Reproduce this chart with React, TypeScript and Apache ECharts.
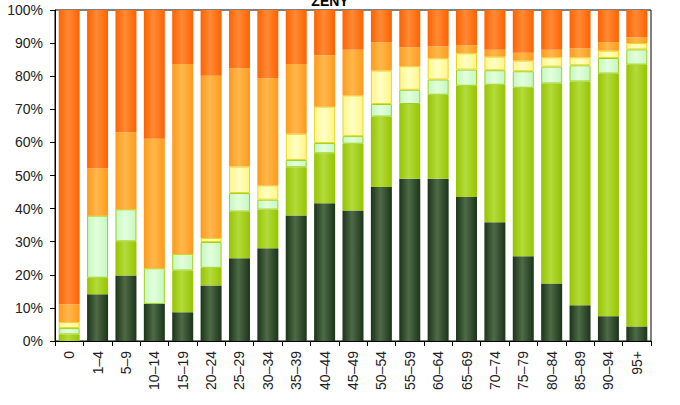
import React, { useEffect, useRef } from "react";
import * as echarts from "echarts";

const categories = ["0", "1–4", "5–9", "10–14", "15–19", "20–24", "25–29", "30–34", "35–39", "40–44", "45–49", "50–54", "55–59", "60–64", "65–69", "70–74", "75–79", "80–84", "85–89", "90–94", "95+"];

const darkGreen = [0, 14.1, 19.8, 11.2, 8.7, 16.8, 25.0, 28.0, 37.9, 41.6, 39.4, 46.5, 49.0, 49.0, 43.5, 35.9, 25.6, 17.4, 10.8, 7.5, 4.4];
const lightGreen = [2.0, 5.0, 10.3, 0, 12.6, 5.3, 14.1, 11.7, 14.6, 15.1, 20.2, 21.3, 22.6, 25.4, 33.6, 41.5, 50.9, 60.4, 67.6, 73.3, 79.1];
const mint = [1.9, 18.8, 9.7, 10.8, 5.0, 7.8, 5.6, 3.0, 2.2, 3.1, 2.3, 3.8, 4.3, 4.6, 4.9, 4.4, 5.0, 5.1, 4.9, 4.7, 4.6];
const paleYellow = [1.8, 0, 0, 0, 0, 1.2, 8.0, 4.3, 7.9, 11.0, 12.3, 10.1, 7.1, 6.4, 4.9, 4.1, 3.2, 2.8, 2.4, 2.2, 1.9];
const lightOrange = [5.4, 14.3, 23.3, 39.1, 57.4, 49.0, 29.7, 32.4, 21.1, 15.5, 13.8, 8.6, 5.7, 3.6, 2.4, 2.1, 2.4, 2.3, 2.7, 2.6, 1.8];
const orange = [88.9, 47.8, 36.9, 38.9, 16.3, 19.9, 17.6, 20.6, 16.3, 13.7, 12.0, 9.7, 11.3, 11.0, 10.7, 12.0, 12.9, 12.0, 11.6, 9.7, 8.2];

const yTicks = [0, 10, 20, 30, 40, 50, 60, 70, 80, 90, 100];

function grad(edge: string, center: string) {
  return new echarts.graphic.LinearGradient(0, 0, 1, 0, [
    { offset: 0, color: edge },
    { offset: 0.45, color: center },
    { offset: 1, color: edge },
  ]);
}

export default function App() {
  const ref = useRef<HTMLDivElement>(null);
  useEffect(() => {
    if (!ref.current) return;
    const chart = echarts.init(ref.current, null, { renderer: "svg" });
    const mk = (name: string, data: number[], edge: string, center: string, border: string, bw: number) => ({
      name,
      type: "bar",
      stack: "all",
      data,
      barCategoryGap: "26%",
      itemStyle: { color: grad(edge, center), borderColor: border, borderWidth: bw },
    });
    chart.setOption({
      animation: false,
      title: {
        text: "ŽENY",
        left: 325,
        textAlign: "center",
        top: -11,
        textStyle: { fontFamily: "Liberation Sans, Arial, sans-serif", fontSize: 14, fontWeight: "bold", color: "#000" },
      },
      grid: { left: 55, right: 29, top: 10, bottom: 64, show: true, borderColor: "#000", borderWidth: 1 },
      xAxis: {
        type: "category",
        data: categories,
        axisLine: { lineStyle: { color: "#000", width: 1 } },
        axisTick: { show: true, length: 5, lineStyle: { color: "#000" }, alignWithLabel: false },
        axisLabel: { rotate: 90, margin: 10, color: "#222", fontSize: 14, fontFamily: "Liberation Sans, Arial, sans-serif", interval: 0 },
      },
      yAxis: {
        type: "value",
        min: 0,
        max: 100,
        interval: 10,
        splitLine: { show: false },
        axisLine: { show: true, lineStyle: { color: "#000", width: 1 } },
        axisTick: { show: true, length: 5, lineStyle: { color: "#000" } },
        axisLabel: {
          margin: 12,
          color: "#222",
          fontSize: 14,
          fontFamily: "Liberation Sans, Arial, sans-serif",
          formatter: (v: number) => (yTicks.includes(v) ? v + "%" : ""),
        },
      },
      series: [
        mk("s1", darkGreen, "#1c3419", "#4d6b47", "#1c3419", 0),
        mk("s2", lightGreen, "#96c400", "#b4db3c", "#99c400", 0),
        mk("s3", mint, "#c6f7c0", "#e2ffdc", "#9fd21a", 1),
        mk("s4", paleYellow, "#fff58a", "#ffffc4", "#e8d820", 1),
        mk("s5", lightOrange, "#ff9a1a", "#ffb84d", "#ff9a1a", 0),
        mk("s6", orange, "#ff6200", "#ff8a36", "#ff6200", 0),
      ],
    });
    return () => chart.dispose();
  }, []);
  return <div ref={ref} style={{ width: 680, height: 405, position: "absolute", left: 0, top: 0 }} />;
}
